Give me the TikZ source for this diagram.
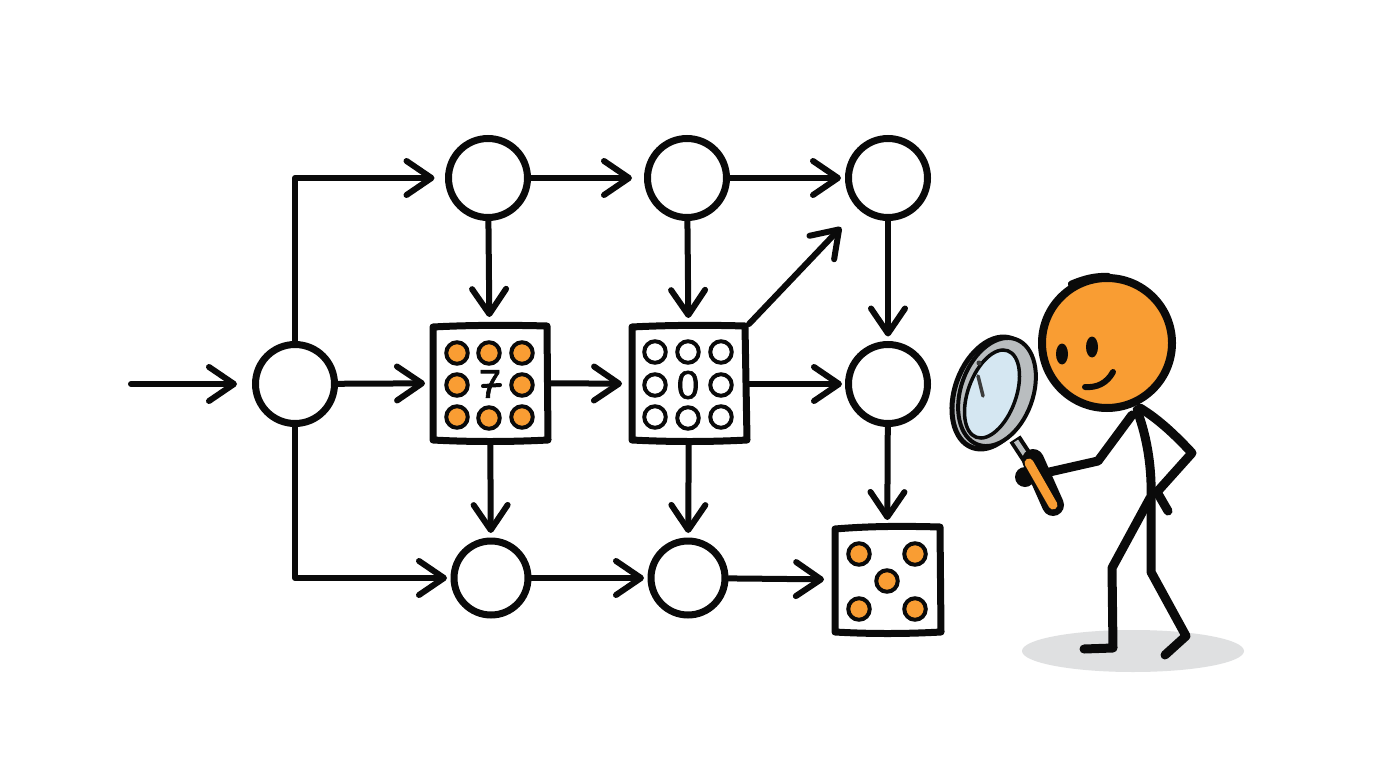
\documentclass[tikz,border=0pt]{standalone}
\usepackage{fontspec}
\setmainfont{Liberation Sans}
\newfontfamily\handdigit{Liberation Sans}[FakeBold=1.6]
\usetikzlibrary{arrows.meta,calc}
\definecolor{ink}{HTML}{0A0A0A}
\definecolor{amber}{HTML}{F99D33}
\definecolor{rimgrey}{HTML}{B9BDBF}
\definecolor{lensblue}{HTML}{D5E7F2}
\definecolor{floorgrey}{HTML}{DFE0E1}
\tikzset{
  x=1pt,y=-1pt,
  junction/.style={circle,draw=ink,line width=7pt,fill=white,minimum size=79pt,inner sep=0pt,outer sep=3.5pt},
  smalljunction/.style={junction,minimum size=74pt},
  slot/.style={minimum width=114pt,minimum height=114pt,inner sep=0pt,outer sep=3pt},
  endslot/.style={minimum width=106pt,minimum height=106pt,inner sep=0pt,outer sep=3pt},
  flow/.style={draw=ink,line width=6pt,line cap=round,line join=round,
    -{Straight Barb[length=25pt,width=34pt,round]},shorten >=#1},
  flow/.default=5pt,
  frame/.style={draw=ink,line width=7pt,line join=round,fill=white},
  filleddot/.style={circle,draw=ink,line width=4pt,fill=amber,minimum size=21.5pt,inner sep=0pt},
  hollowdot/.style={circle,draw=ink,line width=4pt,fill=white,minimum size=21.5pt,inner sep=0pt},
  limb/.style={draw=ink,line width=9pt,line cap=round,line join=round},
  glyph/.style={text=ink,font=\handdigit\fontsize{40}{40}\selectfont,inner sep=0pt},
}
\begin{document}
\begin{tikzpicture}
\useasboundingbox[fill=white] (0,0) rectangle (1376,768);

% junctions
\node[junction] (a) at (488,178) {};
\node[junction] (b) at (687,178) {};
\node[junction] (c) at (888,178) {};
\node[junction] (in) at (295,384) {};
\node[junction] (m) at (888,384) {};
\node[smalljunction] (d) at (491,578) {};
\node[smalljunction] (e) at (688,578) {};

% grid boxes, outlined with a slightly loose hand
\node[slot] (box1) at (490,383) {};
\node[slot] (box2) at (689,384) {};
\node[endslot] (box3) at (887,580) {};
\draw[frame] (433,327) .. controls (470,325) and (510,325) .. (547,326)
  -- (548,440) .. controls (510,442) and (470,442) .. (433,440) -- cycle;
\draw[frame] (632,327) .. controls (670,325) and (710,325) .. (745,326)
  -- (747,440) .. controls (710,442) and (670,442) .. (632,440) -- cycle;
\draw[frame] (835,529) .. controls (870,526) and (905,526) .. (940,527)
  -- (941,632) .. controls (905,634) and (870,634) .. (835,632) -- cycle;

% dots of the first box
\foreach \n/\x/\y in {p1/457/353,p2/489/353,p3/522/353,p4/457/385,p6/522/385,p7/457/417,p8/489/418,p9/522/417}
  \node[filleddot] (\n) at (\x,\y) {};
% dots of the second box
\foreach \n/\x/\y in {q1/655/352,q2/688/352,q3/721/352,q4/655/385,q6/721/385,q7/655/417,q8/688/418,q9/721/417}
  \node[hollowdot] (\n) at (\x,\y) {};
% dots of the last box
\foreach \n/\x/\y in {r1/859/554,r2/915/554,r3/887/581,r4/859/609,r5/915/609}
  \node[filleddot] (\n) at (\x,\y) {};

\node[glyph] (seven) at (490,384) {7};
\draw[ink,line width=4pt,line cap=round] (483,386) -- (500,385);
\node[glyph] (zero) at (688,385) {0};

% connectors
\coordinate (start) at (131,384);
\draw[flow=15pt] (start) -- (in);
\draw[flow=10.5pt] (in) |- (a);
\draw[flow=3.5pt] (in) |- (d);
\draw[flow=5pt] (in) -- (box1);
\draw[flow=7pt] (box1) -- (box2);
\draw[flow=3pt] (box2) -- (m);
\draw[flow=12pt] (a) -- (b);
\draw[flow=4pt] (b) -- (c);
\draw[flow=6pt] (a) -- (box1);
\draw[flow=6pt] (b) -- (box2);
\draw[flow=4.5pt] (c) -- (m);
\draw[flow=4pt] (m) -- (box3);
\draw[flow=4.5pt] (box1) -- (d);
\draw[flow=4.5pt] (box2) -- (e);
\draw[flow=3.5pt] (d) -- (e);
\draw[flow=7pt] (e) -- (box3);
\draw[flow=25pt] (box2.north east) -- (c);

% figure: floor shadow
\fill[floorgrey] (1133,651) ellipse [x radius=111,y radius=21];

% figure: body and limbs
\draw[limb] (1137,410) .. controls (1148,440) and (1152,470) .. (1151,500) -- (1151,572) -- (1186,636) -- (1165,655);
\draw[limb] (1150,498) -- (1112,568) -- (1113,648) -- (1084,649);
\draw[limb] (1140,408) .. controls (1160,420) and (1178,438) .. (1192,453) -- (1157,492) -- (1168,511);
\draw[limb] (1132,415) -- (1098,461) -- (1045,473);

% figure: head
\draw[draw=ink,line width=8pt,fill=amber] (1107,343) circle [radius=65];
\draw[ink,line width=6.5pt,line cap=round] (1071,284) .. controls (1085,278) and (1095,276) .. (1108,276);
\fill[ink] (1062,354) ellipse [x radius=6,y radius=10.5];
\fill[ink] (1092,347) ellipse [x radius=6,y radius=10.5];
\draw[ink,line width=6pt,line cap=round] (1085,387) .. controls (1097,388) and (1107,383) .. (1113,372);

% figure: magnifier
\fill[ink] (1025,477) circle [radius=10];
\draw[draw=ink,line width=13pt] (1015,439) -- (1030,462);
\draw[draw=rimgrey,line width=5pt] (1016,441) -- (1030,462);
\draw[draw=ink,line width=22pt,line cap=round] (1033,460) -- (1053,505);
\draw[draw=amber,line width=9pt,line cap=round] (1029,463) -- (1053,505);
\draw[draw=ink,line width=5pt,fill=rimgrey] (992,393) ellipse [x radius=37,y radius=58,rotate=-20];
\draw[draw=ink,line width=4pt,fill=rimgrey] (997,392) ellipse [x radius=36,y radius=56,rotate=-20];
\draw[draw=ink,line width=3.5pt,fill=lensblue] (992,394) ellipse [x radius=24,y radius=46,rotate=-20];
\fill[ink!80] (979,363) circle [radius=2.5];
\draw[ink!80,line width=3.5pt,line cap=round] (978,376) -- (983,396);
\end{tikzpicture}
\end{document}
